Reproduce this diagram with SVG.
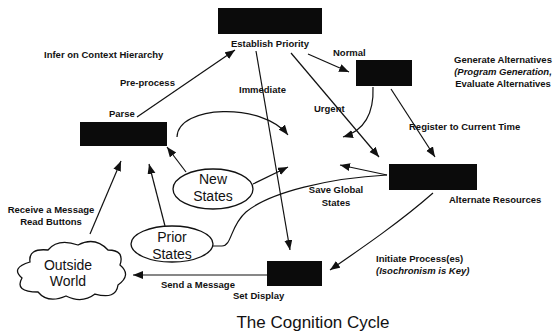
<svg xmlns="http://www.w3.org/2000/svg" width="554" height="335" viewBox="0 0 554 335">
<style>
.box{fill:#0b0b0b;}
.lbl{font-family:"Liberation Sans",Arial,sans-serif;font-size:9.5px;font-weight:bold;fill:#111;}
.it{font-style:italic;}
.big{font-family:"Liberation Sans",Arial,sans-serif;font-size:14px;fill:#111;}
.title{font-family:"Liberation Sans",Arial,sans-serif;font-size:17px;fill:#111;}
.ln{fill:none;stroke:#111;stroke-width:1.2;}
.arr{marker-end:url(#ah);}
.shape{fill:#fff;stroke:#111;stroke-width:1.3;}
</style>
<defs>
<marker id="ah" markerUnits="userSpaceOnUse" markerWidth="12" markerHeight="10" refX="10" refY="4" orient="auto">
<path d="M0,0 L10,4 L0,8 Z" fill="#111"/>
</marker>
</defs>
<rect width="554" height="335" fill="#fff"/>

<g id="connectors">
<line class="ln arr" x1="137" y1="117" x2="235" y2="50"/>
<line class="ln arr" x1="256" y1="51" x2="290" y2="250"/>
<line class="ln arr" x1="291" y1="53" x2="379" y2="157"/>
<line class="ln arr" x1="308" y1="54" x2="349" y2="72"/>
<line class="ln arr" x1="391" y1="89" x2="435" y2="157"/>
<path class="ln arr" d="M373,87 C374,112 366,130 343,137"/>
<path class="ln arr" d="M177,137 C178,105 262,102 288,135"/>
<line class="ln arr" x1="186" y1="172" x2="167" y2="147"/>
<line class="ln arr" x1="253" y1="184" x2="288" y2="167"/>
<line class="ln arr" x1="165" y1="226" x2="149" y2="164"/>
<line class="ln arr" x1="90" y1="234" x2="121" y2="161"/>
<path class="ln" d="M213,246 L222,246 C232,246 230,226 246,212 C270,192 330,178 387,175"/>
<line class="ln arr" x1="387" y1="175" x2="340" y2="165"/>
<path class="ln arr" d="M433,193 C400,222 362,248 330,270"/>
<line class="ln arr" x1="267" y1="275" x2="133" y2="275"/>
</g>

<g id="establish-priority">
<rect class="box" x="218" y="8" width="104" height="26"/>
<text class="lbl" x="270" y="47" text-anchor="middle">Establish Priority</text>
</g>
<g id="parse">
<rect class="box" x="80" y="122" width="87" height="24"/>
<text class="lbl" x="109" y="117">Parse</text>
</g>
<g id="generate">
<rect class="box" x="356" y="60" width="56" height="26"/>
<text class="lbl" x="503" y="63" text-anchor="middle">Generate Alternatives</text>
<text class="lbl it" x="503" y="75" text-anchor="middle">(Program Generation,</text>
<text class="lbl" x="503" y="87" text-anchor="middle">Evaluate Alternatives</text>
</g>
<g id="alternate-resources">
<rect class="box" x="389" y="164" width="88" height="26"/>
<text class="lbl" x="449" y="203">Alternate Resources</text>
</g>
<g id="set-display">
<rect class="box" x="267" y="261" width="55" height="25"/>
<text class="lbl" x="233" y="299">Set Display</text>
</g>
<g id="new-states">
<ellipse class="shape" cx="213" cy="189" rx="40" ry="20"/>
<text class="big" x="213" y="184" text-anchor="middle">New</text>
<text class="big" x="213" y="201" text-anchor="middle">States</text>
</g>
<g id="prior-states">
<ellipse class="shape" cx="172" cy="244" rx="41" ry="18"/>
<text class="big" x="172" y="242" text-anchor="middle">Prior</text>
<text class="big" x="172" y="259" text-anchor="middle">States</text>
</g>
<g id="outside-world">
<path class="shape" d="M30,262 Q28,248 48,250 Q58,238 78,245 Q95,236 108,250 Q125,250 120,265 Q132,275 118,285 Q116,300 95,294 Q82,304 66,296 Q48,304 38,292 Q14,292 22,278 Q10,268 30,262 Z"/>
<text class="big" x="68" y="270" text-anchor="middle">Outside</text>
<text class="big" x="68" y="286" text-anchor="middle">World</text>
</g>

<g id="labels">
<text class="lbl" x="44" y="58">Infer on Context Hierarchy</text>
<text class="lbl" x="120" y="86">Pre-process</text>
<text class="lbl" x="239" y="93">Immediate</text>
<text class="lbl" x="333" y="56">Normal</text>
<text class="lbl" x="314" y="112">Urgent</text>
<text class="lbl" x="409" y="130">Register to Current Time</text>
<text class="lbl" x="336" y="193" text-anchor="middle">Save Global</text>
<text class="lbl" x="336" y="206" text-anchor="middle">States</text>
<text class="lbl" x="51" y="213" text-anchor="middle">Receive a Message</text>
<text class="lbl" x="51" y="225" text-anchor="middle">Read Buttons</text>
<text class="lbl" x="161" y="288">Send a Message</text>
<text class="lbl" x="376" y="262">Initiate Process(es)</text>
<text class="lbl it" x="376" y="274">(Isochronism is Key)</text>
<text class="title" x="313" y="328" text-anchor="middle">The Cognition Cycle</text>
</g>
</svg>
